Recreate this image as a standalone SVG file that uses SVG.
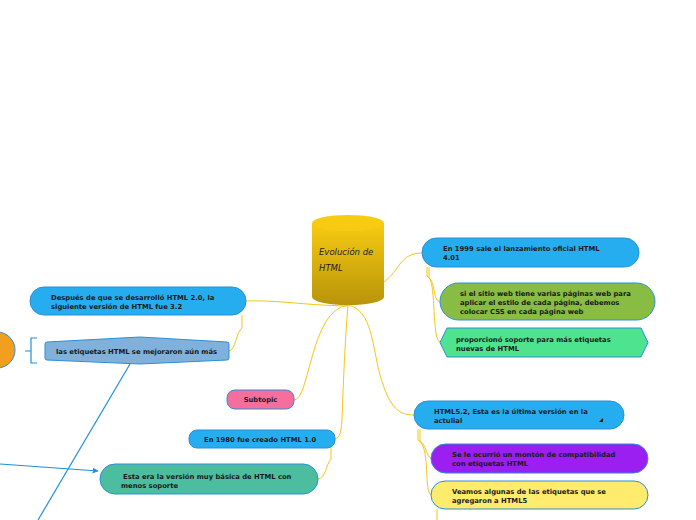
<svg xmlns="http://www.w3.org/2000/svg" width="696" height="520" viewBox="0 0 696 520">
<defs>
<linearGradient id="gold" x1="0" y1="0" x2="0" y2="1">
<stop offset="0" stop-color="#f7cb12"/>
<stop offset="1" stop-color="#b8940a"/>
</linearGradient>
<marker id="arr" viewBox="0 0 10 10" refX="9" refY="5" markerWidth="6" markerHeight="6" orient="auto" markerUnits="userSpaceOnUse">
<path d="M0,0 L10,5 L0,10 z" fill="#1e90dc"/>
</marker>
</defs>
<style>
.t{font-family:"DejaVu Sans",Verdana,sans-serif;font-weight:bold;font-size:6.8px;fill:#1a1a1a}
.n{stroke:#2a8fd8;stroke-width:1}
.y{fill:none;stroke:#f5c518;stroke-width:1}
.b{fill:none;stroke:#1e90dc;stroke-width:1.2}
</style>
<rect width="696" height="520" fill="#ffffff"/>
<g id="connectors">
<path class="y" d="M384,282 C400,270 400,253 422,253"/>
<path class="y" d="M348,305 C372,310 372,345 380,375 C390,410 400,415 414,415"/>
<path class="y" d="M348,306 C300,305 280,300 246,301"/>
<path class="y" d="M348,305 C310,310 310,400 294,400"/>
<path class="y" d="M348,305 C345,340 343,390 342,420 C341,432 340,438 335,439"/>
<path class="y" d="M331,448 L331,459 C326,464 326,478 318,479"/>
<path class="y" d="M242,315 L242,328 C236,332 236,350 229,351"/>
<path class="y" d="M427,267 L427,276 C436,280 432,300 440,302"/>
<path class="y" d="M429,267 L429,278 C436,285 432,340 440,342"/>
<path class="y" d="M418,429 L418,440 C428,445 425,456 431,458"/>
<path class="y" d="M420,429 L420,442 C430,450 424,492 431,495"/>
<path class="y" d="M437,509 L437,520"/>
<path class="b" d="M0,464 L98,471" marker-end="url(#arr)"/>
<path class="b" d="M130,364 L38,520"/>
<path class="b" d="M25,351 L31,351 M37,338 L31,338 L31,363 L37,363"/>
</g>
<g id="center">
<path d="M312,223 L312,297 A36,8 0 0 0 384,297 L384,223 Z" fill="url(#gold)"/>
<ellipse cx="348" cy="223" rx="36" ry="8" fill="#f7cb12"/>
<text x="319" y="255" font-family="'DejaVu Sans',sans-serif" font-style="italic" font-size="8.5" fill="#222">Evolución de</text>
<text x="319" y="271" font-family="'DejaVu Sans',sans-serif" font-style="italic" font-size="8.5" fill="#222">HTML</text>
</g>
<g id="n1999">
<rect class="n" x="422" y="238" width="217" height="29" rx="14.5" fill="#25adef"/>
<text class="t" x="443" y="251">En 1999 sale el lanzamiento oficial HTML</text>
<text class="t" x="443" y="260">4.01</text>
</g>
<g id="ncss">
<rect class="n" x="440" y="283" width="215" height="37" rx="18.5" fill="#88bc42"/>
<text class="t" x="460" y="296">si el sitio web tiene varias páginas web para</text>
<text class="t" x="460" y="305">aplicar el estilo de cada página, debemos</text>
<text class="t" x="460" y="314">colocar CSS en cada página web</text>
</g>
<g id="nsoporte">
<path class="n" d="M447,328 L641,328 L648,342.5 L641,357 L447,357 L440,342.5 Z" fill="#4ee38f"/>
<text class="t" x="456" y="342">proporcionó soporte para más etiquetas</text>
<text class="t" x="456" y="351">nuevas de HTML</text>
</g>
<g id="nhtml5">
<rect class="n" x="414" y="401" width="210" height="28" rx="14" fill="#25adef"/>
<text class="t" x="434" y="414">HTML5.2, Esta es la última versión en la</text>
<text class="t" x="434" y="423">actulial</text>
<path d="M603,418 L603,422 L599,422 Z" fill="#1a1a1a"/>
</g>
<g id="ncompat">
<rect class="n" x="431" y="444" width="217" height="29" rx="14.5" fill="#9a1ff0"/>
<text class="t" x="452" y="457">Se le ocurrió un montón de compatibilidad</text>
<text class="t" x="452" y="466">con etiquetas HTML</text>
</g>
<g id="nveamos">
<rect class="n" x="431" y="481" width="217" height="28" rx="14" fill="#ffeb6c"/>
<text class="t" x="452" y="494">Veamos algunas de las etiquetas que se</text>
<text class="t" x="452" y="503">agregaron a HTML5</text>
</g>
<g id="n32">
<rect class="n" x="30" y="287" width="216" height="28" rx="14" fill="#25adef"/>
<text class="t" x="51" y="300">Después de que se desarrolló HTML 2.0, la</text>
<text class="t" x="51" y="309">siguiente versión de HTML fue 3.2</text>
</g>
<g id="netiquetas">
<path class="n" d="M47,342 L140,337 L227,342 Q229,342 229,344 L229,358 Q229,360 227,360 L140,364 L47,360 Q45,360 45,358 L45,344 Q45,342 47,342 Z" fill="#7fb1da"/>
<text class="t" x="56" y="354">las etiquetas HTML se mejoraron aún más</text>
</g>
<g id="norange">
<circle class="n" cx="-3" cy="350" r="18" fill="#f29e1f"/>
</g>
<g id="nsubtopic">
<rect class="n" x="227" y="390" width="67" height="19" rx="8" fill="#f56e9c"/>
<text class="t" x="260.5" y="402" text-anchor="middle">Subtopic</text>
</g>
<g id="n1980">
<rect class="n" x="189" y="430" width="146" height="18" rx="8" fill="#25adef"/>
<text class="t" x="204" y="442">En 1980 fue creado HTML 1.0</text>
</g>
<g id="nbasica">
<rect class="n" x="100" y="464" width="218" height="30" rx="15" fill="#4dbd9f"/>
<text class="t" x="123" y="479">Esta era la versión muy básica de HTML con</text>
<text class="t" x="121" y="488">menos soporte</text>
</g>
</svg>
